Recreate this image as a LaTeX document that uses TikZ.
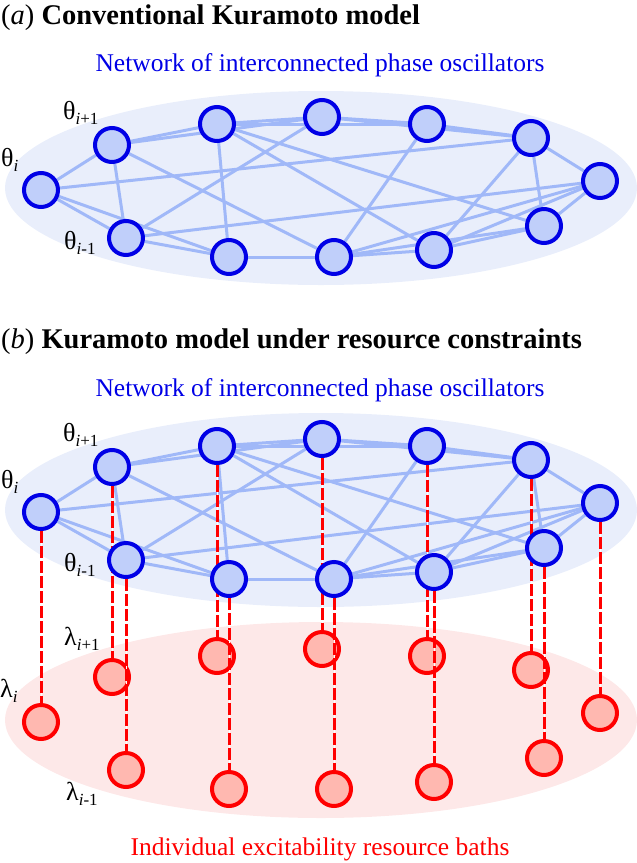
\documentclass[tikz,border=0pt]{standalone}
\usepackage{fontspec}
\setmainfont{Liberation Serif}
\usetikzlibrary{positioning}
\definecolor{oscblue}{RGB}{0, 0, 230}
\definecolor{oscfill}{RGB}{192, 207, 250}
\definecolor{linkblue}{RGB}{160, 184, 248}
\definecolor{netbg}{RGB}{233, 238, 251}
\definecolor{bathred}{RGB}{255, 0, 0}
\definecolor{bathfill}{RGB}{255, 184, 176}
\definecolor{bathbg}{RGB}{253, 232, 232}
\pgfdeclarelayer{back}
\pgfdeclarelayer{edges}
\pgfdeclarelayer{front}
\pgfsetlayers{back,edges,main,front}
\newcommand{\lsub}[1]{\raisebox{-5pt}{\fontsize{17}{17}\selectfont #1}}
\tikzset{
  osc/.style={circle, draw=oscblue, fill=oscfill, line width=4pt, minimum size=34pt, inner sep=0pt},
  bath/.style={circle, draw=bathred, fill=bathfill, line width=4pt, minimum size=34pt, inner sep=0pt},
  link/.style={linkblue, line width=3pt},
  tie/.style={draw=bathred, line width=3pt, dash pattern=on 12pt off 3pt, preaction={draw=white, solid}},
  title/.style={inner sep=0pt, anchor=base west, font=\fontsize{28.5}{32}\selectfont},
  caption/.style={inner sep=0pt, anchor=base, font=\fontsize{25.5}{30}\selectfont},
  lbl/.style={inner sep=0pt, anchor=base west, font=\fontsize{26}{30}\selectfont}
}

\begin{document}
\begin{tikzpicture}[x=1pt, y=-1pt]
    \useasboundingbox (0,0) rectangle (637,863);

    % (a) conventional model
    \node[title] (ta) at (1,24) {(\textit{a}) \textbf{Conventional Kuramoto model}};
    \node[caption, oscblue] (ca) at (320,71) {Network of interconnected phase oscillators};
    \begin{pgfonlayer}{back}
        \fill[netbg] (321,188) ellipse [x radius=316pt, y radius=97pt];
    \end{pgfonlayer}
    \begin{pgfonlayer}{front}
        \foreach \n/\x/\y in {1/41/190, 2/112/145, 3/217/124, 4/322/117, 5/427/124, 6/531/138,
                              7/600/181, 8/544/226, 9/434/250, 10/334/257, 11/229/257, 12/126/238}
            \node[osc] (a\n) at (\x,\y) {};
    \end{pgfonlayer}
    \begin{pgfonlayer}{edges}
        \foreach \u/\v in {1/2, 1/6, 1/12, 1/11, 2/3, 2/4, 2/12, 2/10, 3/4, 3/5, 3/11, 3/8, 3/9,
                           4/5, 4/6, 4/12, 5/6, 5/10, 6/7, 6/8, 6/9, 7/8, 7/9, 7/10, 7/12,
                           8/9, 8/10, 9/10, 10/11, 11/12}
            \draw[link] (a\u) -- (a\v);
    \end{pgfonlayer}
    \node[lbl] (la1) at (1,166) {θ\lsub{\textit{i}}};
    \node[lbl] (la2) at (63,119) {θ\lsub{\textit{i}+1}};
    \node[lbl] (la12) at (64,249) {θ\lsub{\textit{i}-1}};

    % (b) model under resource constraints
    \node[title] (tb) at (1,348) {(\textit{b}) \textbf{Kuramoto model under resource constraints}};
    \node[caption, oscblue] (cb) at (320,396) {Network of interconnected phase oscillators};
    \begin{pgfonlayer}{back}
        \fill[bathbg] (321,720) ellipse [x radius=316pt, y radius=98pt];
        \fill[netbg] (321,510) ellipse [x radius=316pt, y radius=97pt];
    \end{pgfonlayer}
    \begin{pgfonlayer}{front}
        \foreach \n/\x/\y in {1/41/190, 2/112/145, 3/217/124, 4/322/117, 5/427/124, 6/531/138,
                              7/600/181, 8/544/226, 9/434/250, 10/334/257, 11/229/257, 12/126/238}
            \node[osc] (b\n) at (\x,\y+322) {};
    \end{pgfonlayer}
    \begin{pgfonlayer}{edges}
        \foreach \u/\v in {1/2, 1/6, 1/12, 1/11, 2/3, 2/4, 2/12, 2/10, 3/4, 3/5, 3/11, 3/8, 3/9,
                           4/5, 4/6, 4/12, 5/6, 5/10, 6/7, 6/8, 6/9, 7/8, 7/9, 7/10, 7/12,
                           8/9, 8/10, 9/10, 10/11, 11/12}
            \draw[link] (b\u) -- (b\v);
    \end{pgfonlayer}
    \foreach \n/\x/\y in {1/41/190, 2/112/145, 3/217/124, 4/322/117, 5/427/124, 6/531/138,
                          7/600/181, 8/544/226, 9/434/250, 10/334/257, 11/229/257, 12/126/238}
        \node[bath] (r\n) at (\x,\y+532) {};
    \foreach \n in {1,...,12}
        \draw[tie] (b\n.south) -- (r\n.north); % oscillator to its own bath
    \node[lbl] (lb1) at (1,488) {θ\lsub{\textit{i}}};
    \node[lbl] (lb2) at (63,441) {θ\lsub{\textit{i}+1}};
    \node[lbl] (lb12) at (64,571) {θ\lsub{\textit{i}-1}};
    \node[lbl] (lr1) at (0,697) {λ\lsub{\textit{i}}};
    \node[lbl] (lr2) at (64,645) {λ\lsub{\textit{i}+1}};
    \node[lbl] (lr12) at (66,800) {λ\lsub{\textit{i}-1}};
    \node[caption, bathred] (cr) at (320,855) {Individual excitability resource baths};
\end{tikzpicture}
\end{document}
